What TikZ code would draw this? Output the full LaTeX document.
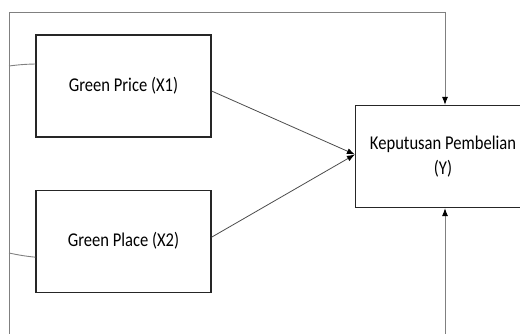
\documentclass[tikz,border=0pt]{standalone}
\usepackage{fontspec}
\setmainfont{Carlito}[FakeStretch=0.85]
\usepackage{tikz}
\usetikzlibrary{arrows.meta,calc,positioning}
\tikzset{%
	block/.style    = {draw=black!85, line width=1.2pt, rectangle, minimum width=175pt, minimum height=102pt, align=center, font=\fontsize{19.5}{25}\selectfont},
	waypoint/.style = {coordinate},
	link/.style     = {draw=black!70, line width=0.8pt},
	frame/.style    = {draw=black!50, line width=0.9pt},
}
\begin{document}
\begin{tikzpicture}[x=1pt,y=-1pt,>={Latex[length=8pt,width=6pt,color=black]}]
	\useasboundingbox (0,0) rectangle (520,334);
	\node [block] (x1) at (123.5,86) {Green Price (X1)};
	\node [block] (x2) [below=52pt of x1] {Green Place (X2)};
	\node [block] (y) at (443,156.5) {Keputusan Pembelian\\(Y)};
	\node [waypoint] (tl) at (9,12) {};
	\node [waypoint] (tr) at (445,12) {};
	\node [waypoint] (bl) at (9,334) {};
	\node [waypoint] (br) at (445,334) {};

	\draw[frame] (bl) -- (tl) -- (tr);
	\draw[frame,->] (tr) -- (y.north -| tr);
	\draw[frame,->] (br) -- (y.south -| br);
	\draw[frame] (9,66) to[bend left=3] ([yshift=22pt]x1.west);
	\draw[frame] (9,253) to[bend right=3] ([yshift=-16pt]x2.west);

	\draw[link,->] ([yshift=-5pt]x1.east) -- ([yshift=2pt]y.west);
	\draw[link,->] ([yshift=4pt]x2.east) -- ([yshift=2pt]y.west);
\end{tikzpicture}
\end{document}
